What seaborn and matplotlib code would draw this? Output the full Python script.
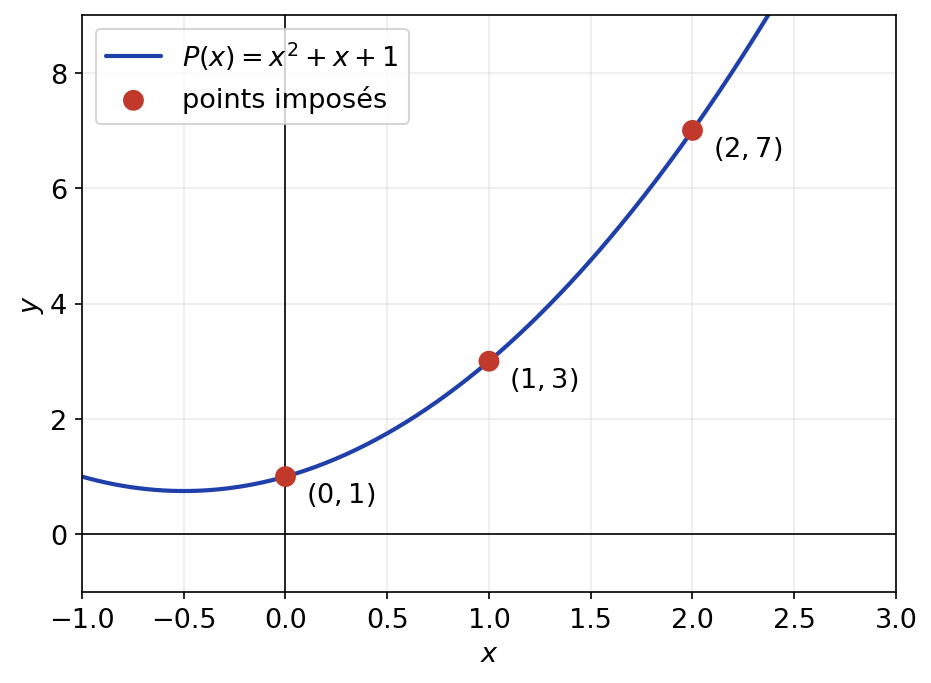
import numpy as np
import pandas as pd
import matplotlib
matplotlib.use("Agg")
import matplotlib.pyplot as plt
import seaborn as sns

# Data
coeffs = [1, 1, 1]  # P(x) = x^2 + x + 1
x_curve = np.linspace(-1, 3, 400)
pts_x = [0, 1, 2]
pts_y = [1, 3, 7]
pt_labels = ["$(0, 1)$", "$(1, 3)$", "$(2, 7)$"]

sns.set_theme(style="ticks", rc={
    "text.color": "black", "axes.labelcolor": "black",
    "xtick.color": "black", "ytick.color": "black",
    "axes.edgecolor": "black",
    "xtick.major.size": 3.5, "ytick.major.size": 3.5,
    "xtick.major.width": 0.8, "ytick.major.width": 0.8,
    "axes.linewidth": 0.8,
})
plt.rcParams['font.family'] = ['DejaVu Sans']
plt.rcParams['mathtext.fontset'] = 'dejavusans'

fig, ax = plt.subplots(figsize=(932/150, 684/150), dpi=150)

curve = pd.DataFrame({"x": x_curve, "y": np.polyval(coeffs, x_curve)})
pts = pd.DataFrame({"x": pts_x, "y": pts_y})

ax.axhline(0, color="black", lw=0.8, zorder=1)
ax.axvline(0, color="black", lw=0.8, zorder=1)
sns.lineplot(data=curve, x="x", y="y", ax=ax, color="#1f3fab", lw=2.0,
             label=r"$P(x) = x^2 + x + 1$", zorder=2)
sns.scatterplot(data=pts, x="x", y="y", ax=ax, color="#c0392b", s=100,
                edgecolor="none", label="points imposés", zorder=3)
for xx, yy, lab in zip(pts_x, pts_y, pt_labels):
    ax.text(xx + 0.1, yy - 0.3, lab, fontsize=13, va="center", ha="left", color="black")

ax.set_xlim(-1, 3)
ax.set_ylim(-1, 9)
ax.grid(True, alpha=0.3)
ax.set_xlabel("$x$", fontsize=13)
ax.set_ylabel("$y$", fontsize=13, labelpad=2)
ax.tick_params(labelsize=13)
ax.legend(loc="upper left", fontsize=13, frameon=True)

fig.subplots_adjust(left=82/932, right=896/932, top=1-16/684, bottom=1-593/684)
fig.savefig("out.png", dpi=150)
